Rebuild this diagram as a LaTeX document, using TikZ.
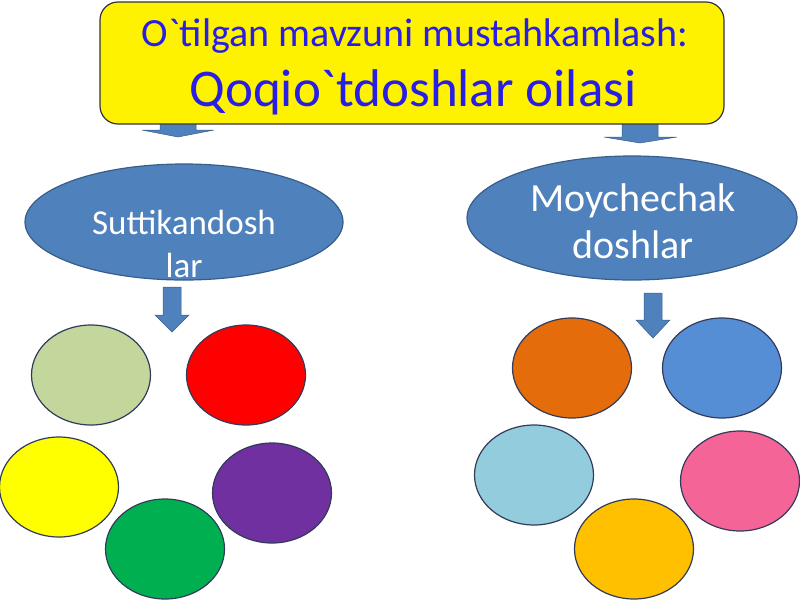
\documentclass[tikz,border=0pt]{standalone}
\usepackage{fontspec}
\newfontfamily\slidefont{Carlito}
\usepackage{tikz}
\usetikzlibrary{shapes}
\usepackage{color}

\definecolor{titleblue}{RGB}{40,30,230}
\definecolor{titleedge}{RGB}{50,50,60}
\definecolor{ovalfill}{RGB}{79,129,189}
\definecolor{ovaledge}{RGB}{56,93,138}
\definecolor{petaledge}{RGB}{50,60,90}
\definecolor{sage}{RGB}{195,214,155}
\definecolor{petalred}{RGB}{255,0,0}
\definecolor{petalyellow}{RGB}{255,255,0}
\definecolor{petalpurple}{RGB}{112,48,160}
\definecolor{petalgreen}{RGB}{0,176,80}
\definecolor{petalorange}{RGB}{228,108,10}
\definecolor{petalblue}{RGB}{85,142,213}
\definecolor{petalsky}{RGB}{147,205,221}
\definecolor{petalpink}{RGB}{245,100,150}
\definecolor{petalamber}{RGB}{255,192,0}

\tikzset{
  titlebox/.style={rectangle,rounded corners=18pt,draw=titleedge,fill=yellow,line width=1.2pt,minimum width=624pt,minimum height=122pt,inner sep=0pt},
  titletext/.style={text=titleblue,inner sep=0pt,anchor=base},
  oval/.style={ellipse,draw=ovaledge,fill=ovalfill,line width=1.2pt,inner sep=0pt},
  ovaltext/.style={text=white,align=center,inner sep=0pt},
  petal/.style={ellipse,draw=petaledge,line width=1.2pt,minimum width=119pt,minimum height=100pt,inner sep=0pt},
  blockarrow/.style={fill=ovalfill,draw=ovaledge,line width=0.5pt}
}

\begin{document}
\begin{tikzpicture}[x=1pt,y=-1pt]

\useasboundingbox (0,0) rectangle (800,600);

% arrows under the title
\draw [blockarrow] (160,100) -- (196,100) -- (196,130) -- (214,130) -- (178,137) -- (142,130) -- (160,130) -- cycle;
\draw [blockarrow] (622,100) -- (658,100) -- (658,137) -- (677,137) -- (640,143) -- (604,137) -- (622,137) -- cycle;

\node (title) at (412, 63)[titlebox]{};
\node (topic) at (415, 46)[titletext,font=\slidefont\fontsize{40}{40}\selectfont]{O`tilgan mavzuni mustahkamlash:};
\node (family) at (413, 106)[titletext,font=\slidefont\fontsize{53}{53}\selectfont]{Qoqio`tdoshlar oilasi};

% two families
\node (sutti) at (184, 222)[oval,minimum width=318pt,minimum height=116pt]{};
\node (moy) at (632, 218)[oval,minimum width=330pt,minimum height=124pt]{};
\node (suttitext) at (184, 244)[ovaltext,font=\slidefont\fontsize{35}{43}\selectfont]{Suttikandosh\\lar};
\node (moytext) at (633, 221)[ovaltext,font=\slidefont\fontsize{40}{47}\selectfont]{Moychechak\\doshlar};

\draw [blockarrow] (163,287) -- (181,287) -- (181,315) -- (189,315) -- (172,332) -- (155,315) -- (163,315) -- cycle;
\draw [blockarrow] (644,293) -- (662,293) -- (662,320) -- (670,320) -- (653,338) -- (636,320) -- (644,320) -- cycle;

% left flowers
\node (sage) at (91, 375)[petal,fill=sage]{};
\node (red) at (246, 375)[petal,fill=petalred]{};
\node (yellow) at (59, 487)[petal,fill=petalyellow]{};
\node (purple) at (272, 493)[petal,fill=petalpurple]{};
\node (green) at (165, 549)[petal,fill=petalgreen]{};

% right flowers
\node (orange) at (572, 368)[petal,fill=petalorange]{};
\node (blue) at (722, 368)[petal,fill=petalblue]{};
\node (sky) at (534, 475)[petal,fill=petalsky]{};
\node (pink) at (740, 481)[petal,fill=petalpink]{};
\node (amber) at (634, 549)[petal,fill=petalamber]{};

\end{tikzpicture}
\end{document}
